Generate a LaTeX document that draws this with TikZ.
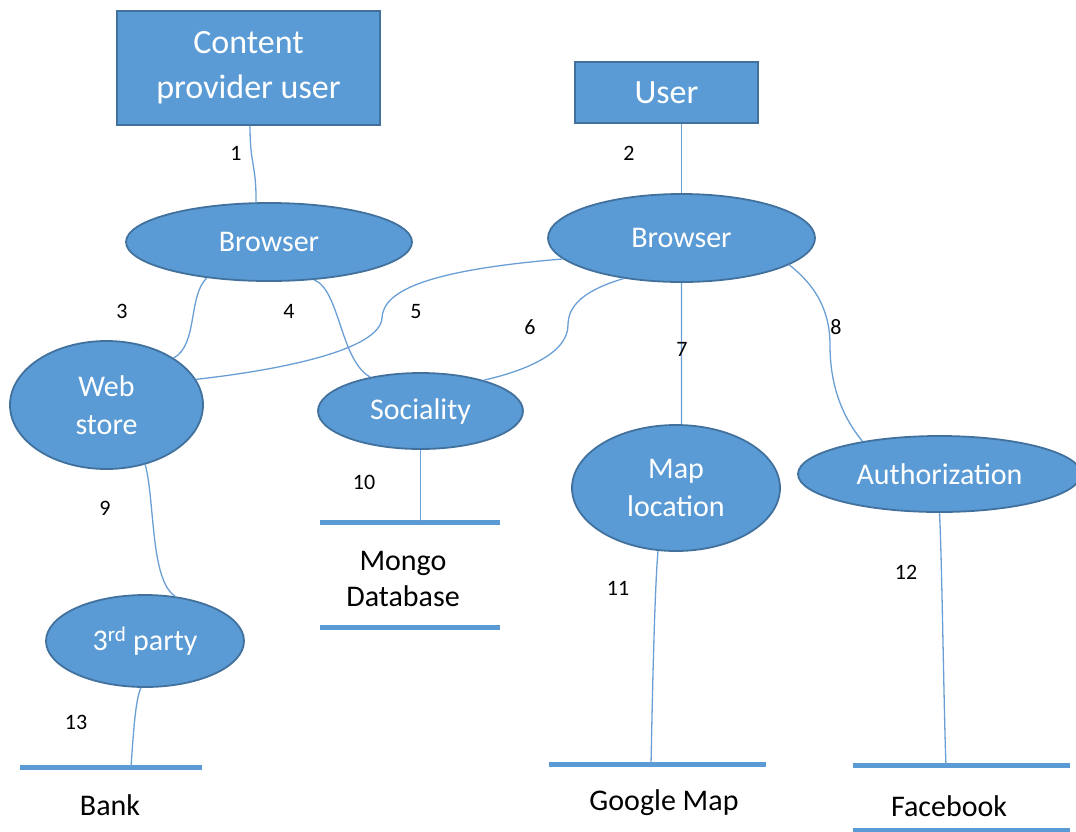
\documentclass[tikz,border=0pt]{standalone}
\usepackage{fontspec}
\setmainfont{Carlito}
\usetikzlibrary{shapes.geometric}
\definecolor{obfill}{HTML}{5B9BD5}
\definecolor{obdraw}{HTML}{41719C}
\definecolor{obline}{HTML}{6A9FD6}
\tikzset{
  boxnode/.style={draw=obdraw,line width=1.8pt,fill=obfill,text=white,inner sep=0pt,align=center,font=\fontsize{34}{45}\selectfont},
  ellnode/.style={ellipse,draw=obdraw,line width=1.8pt,fill=obfill,text=white,inner sep=0pt,align=center,font=\fontsize{30}{38}\selectfont},
  conn/.style={draw=obline,line width=1.3pt},
  bar/.style={draw=obfill,line width=5pt},
  numlbl/.style={font=\fontsize{22}{26}\selectfont,text=black,inner sep=0pt},
  storelbl/.style={font=\fontsize{30}{36}\selectfont,text=black,inner sep=0pt,align=center}
}
\begin{document}
\begin{tikzpicture}[x=1pt,y=-1pt]
\useasboundingbox (0,0) rectangle (1076,831);
% boxes
\node[boxnode,minimum width=263pt,minimum height=114pt] (cpu) at (248.5,68) {Content\\provider user};
\node[boxnode,minimum width=183pt,minimum height=61pt] (usr) at (666.5,92.5) {User};
% ellipses
\node[ellnode,minimum width=286pt,minimum height=78pt] (b1) at (269,242) {Browser};
\node[ellnode,minimum width=267pt,minimum height=88pt] (b2) at (681.5,238) {Browser};
\node[ellnode,minimum width=193pt,minimum height=128pt] (ws) at (106.5,405) {Web\\store};
\node[ellnode,minimum width=205pt,minimum height=76pt] (soc) at (420.5,411) {Sociality};
\node[ellnode,minimum width=208pt,minimum height=126pt] (map) at (676,488) {Map\\location};
\node[ellnode,minimum width=283pt,minimum height=76pt] (auth) at (939.5,474) {Authorization};
\node[ellnode,minimum width=198pt,minimum height=92pt] (tp) at (145,641) {3\textsuperscript{rd} party};
% stores
\coordinate (mongoTL) at (320,522); \coordinate (mongoTR) at (500,522);
\coordinate (mongoBL) at (320,627); \coordinate (mongoBR) at (500,627);
\coordinate (bankL) at (20,767); \coordinate (bankR) at (202,767);
\coordinate (gmL) at (549,764); \coordinate (gmR) at (766,764);
\coordinate (fbL) at (853,765); \coordinate (fbR) at (1070,765);
\coordinate (fbBL) at (853,830); \coordinate (fbBR) at (1070,830);
\draw[bar] (mongoTL) -- (mongoTR);
\draw[bar] (mongoBL) -- (mongoBR);
\draw[bar] (bankL) -- (bankR);
\draw[bar] (gmL) -- (gmR);
\draw[bar] (fbL) -- (fbR);
\draw[bar] (fbBL) -- (fbBR);
\node[storelbl] (mongo) at (403,579) {Mongo\\Database};
\node[storelbl] (bank) at (110,805) {Bank};
\node[storelbl] (gm) at (664,803) {Google Map};
\node[storelbl] (fb) at (949,806) {Facebook};
% attachment points on bars
\coordinate (a10) at (420.5,522);
\coordinate (a11) at (651,764);
\coordinate (a12) at (946,765);
\coordinate (a13) at (131,767);
\coordinate (c5) at (382,318);
\coordinate (c6) at (568,325);
\coordinate (c8) at (830,345);
% connectors
\draw[conn] ([xshift=1.5pt]cpu.south) .. controls +(0,40) and +(0,-40) .. (b1.108);
\draw[conn] ([xshift=15pt]usr.south) -- (b2.90);
\draw[conn] (b1.210) .. controls (188,296) and (198,345) .. (ws.35);
\draw[conn] (b1.320) .. controls (340,290) and (340,360) .. (soc.146);
\draw[conn] (b2.190) .. controls (430,270) and (383,290) .. (c5) .. controls (380,350) and (280,370) .. (ws.16);
\draw[conn] (b2.215) .. controls (585,290) and (568,305) .. (c6) .. controls (568,355) and (520,372) .. (soc.26);
\draw[conn] (b2.270) -- (map.85);
\draw[conn] (b2.346) .. controls (815,285) and (830,310) .. (c8) .. controls (830,390) and (845,420) .. (auth.157);
\draw[conn] (ws.303) .. controls (155,500) and (150,580) .. (tp.56);
\draw[conn] (soc.south) -- (a10);
\draw[conn] (map.254) .. controls (654,600) and (652,720) .. (a11);
\draw[conn] (auth.270) .. controls (942,560) and (944,720) .. (a12);
\draw[conn] (tp.265) .. controls (135,700) and (133,740) .. (a13);
% numbers
\node[numlbl] (n1) at (236,153) {1};
\node[numlbl] (n2) at (629,153) {2};
\node[numlbl] (n3) at (122,311) {3};
\node[numlbl] (n4) at (289,311) {4};
\node[numlbl] (n5) at (416,312) {5};
\node[numlbl] (n6) at (530,327) {6};
\node[numlbl] (n7) at (682,349) {7};
\node[numlbl] (n8) at (836,327) {8};
\node[numlbl] (n9) at (105,508) {9};
\node[numlbl] (n10) at (364,482) {10};
\node[numlbl] (n11) at (618,588) {11};
\node[numlbl] (n12) at (906,572) {12};
\node[numlbl] (n13) at (76,722) {13};
\end{tikzpicture}
\end{document}
